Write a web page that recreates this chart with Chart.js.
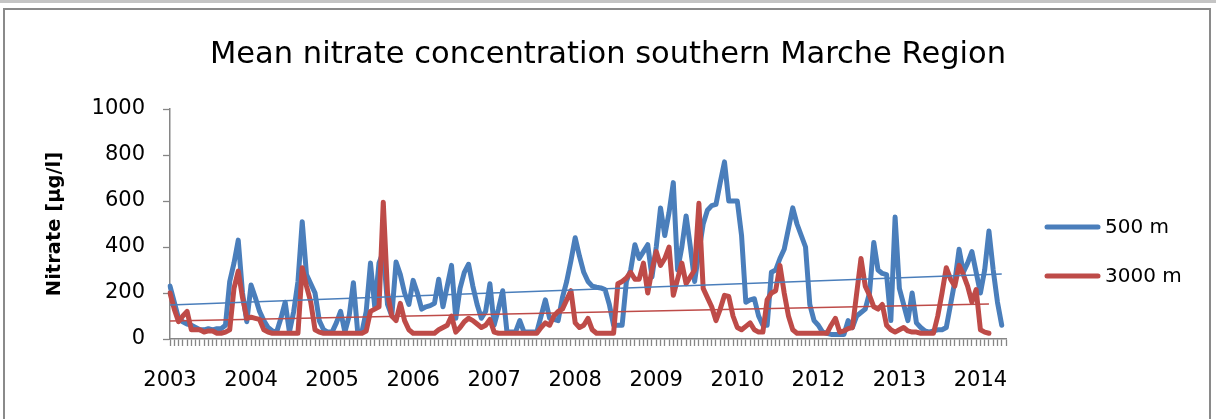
<!DOCTYPE html>
<html>
<head>
<meta charset="utf-8">
<script src="https://cdn.jsdelivr.net/npm/chart.js@4/dist/chart.umd.min.js"></script>
<style>
  html, body { margin: 0; padding: 0; background: #ffffff; }
  canvas { display: block; }
</style>
</head>
<body>
<canvas id="chart" width="1216" height="419"></canvas>
<script>
// Year labels shown under the category axis, one every 19 samples
const yearTicks = ['2003', '2004', '2005', '2006', '2007', '2008', '2009', '2010', '2012', '2013', '2014'];
const tickEvery = 19;
const sampleCount = 197;

// Mean nitrate (µg/l), wells within 500 m
const nitrate500 = [
  230, 160, 90, 75, 65, 60, 50, 40, 40, 45,
  40, 45, 45, 60, 250, 330, 430, 200, 75, 235,
  180, 120, 80, 50, 35, 30, 90, 160, 30, 120,
  250, 510, 280, 240, 200, 80, 40, 30, 30, 70,
  120, 30, 100, 245, 30, 30, 120, 330, 140, 330,
  380, 150, 100, 335, 280, 200, 150, 255, 200, 130,
  140, 145, 155, 260, 140, 230, 320, 90, 220, 290,
  325, 230, 150, 90, 120, 240, 60, 130, 210, 30,
  30, 30, 80, 30, 30, 30, 30, 100, 170, 90,
  85, 80, 180, 250, 340, 440, 360, 290, 250, 230,
  225, 222, 215, 150, 60, 60, 60, 250, 300, 410,
  350, 380, 410, 270, 400, 570, 450, 550, 680, 300,
  400, 535, 400, 250, 380, 500, 560, 580, 585, 680,
  770, 600, 600, 600, 450, 160, 170, 175, 100, 60,
  60, 290, 300, 350, 390, 480, 570, 500, 450, 400,
  150, 80, 60, 30, 25, 20, 20, 20, 20, 80,
  50, 100, 115, 130, 200, 420, 300, 285, 280, 80,
  530, 220, 150, 80, 200, 70, 50, 35, 30, 35,
  40, 40, 50, 150, 250, 390, 290, 330, 380, 290,
  200, 300, 470, 300, 160, 60
];

// Mean nitrate (µg/l), wells within 3000 m
const nitrate3000 = [
  200, 130, 75, 100, 120, 40, 40, 40, 30, 35,
  35, 25, 25, 30, 40, 220, 295, 180, 90, 95,
  90, 85, 40, 30, 25, 25, 25, 25, 25, 25,
  25, 310, 230, 160, 40, 30, 25, 25, 25, 25,
  25, 25, 25, 25, 25, 25, 35, 120, 130, 140,
  595, 200, 100, 80, 155, 80, 40, 25, 25, 25,
  25, 25, 25, 40, 50, 60, 100, 30, 50, 75,
  90, 80, 65, 50, 60, 85, 30, 25, 25, 25,
  25, 25, 25, 25, 25, 25, 25, 50, 70, 60,
  100, 120, 130, 170, 210, 70, 50, 60, 90, 40,
  25, 25, 25, 25, 25, 240, 250, 265, 290, 260,
  260, 330, 200, 300, 380, 320, 350, 400, 190, 260,
  330, 240, 270, 300, 590, 220, 180, 140, 80, 130,
  190, 185, 100, 50, 40, 55, 70, 40, 30, 30,
  170, 200, 210, 320, 200, 100, 40, 25, 25, 25,
  25, 25, 25, 25, 25, 60, 90, 30, 35, 45,
  50, 200, 350, 230, 190, 140, 130, 150, 60, 40,
  30, 40, 50, 35, 30, 30, 25, 25, 25, 25,
  100, 200, 310, 260, 230, 320, 280, 230, 160, 215,
  40, 30, 25
];

// Linear trend end values (first and last sample of each series)
const trend500 = [148, 283];
const trend3000 = [78, 152];

const seriesNames = ['500 m', '3000 m'];
const seriesColors = ['#4a7ebb', '#be4b48'];
const axisGrey = '#868686';
const fontFamily = "'DejaVu Sans', sans-serif";

const categories = Array.from({ length: sampleCount }, (_, i) =>
  i % tickEvery === 0 ? yearTicks[i / tickEvery] : '');

// Two-point trend line laid over the category axis
function trendSeries(ends, lastIndex) {
  const arr = new Array(lastIndex + 1).fill(null);
  arr[0] = ends[0];
  arr[lastIndex] = ends[1];
  return arr;
}

// White page, thin top band and grey chart frame
const framePlugin = {
  id: 'frame',
  beforeDraw(chart) {
    const ctx = chart.ctx;
    ctx.save();
    ctx.fillStyle = '#ffffff';
    ctx.fillRect(0, 0, chart.width, chart.height);
    ctx.fillStyle = '#c4c4c4';
    ctx.fillRect(0, 0, chart.width, 3);
    ctx.strokeStyle = '#8a8a8a';
    ctx.lineWidth = 2;
    ctx.strokeRect(4, 9, 1206, 500);
    ctx.restore();
  }
};

// Legend at the right: line sample followed by the series name
const sideLegend = {
  id: 'sideLegend',
  afterDraw(chart, args, opts) {
    const ctx = chart.ctx;
    ctx.save();
    opts.datasets.forEach((di, k) => {
      const ds = chart.data.datasets[di];
      const y = opts.top + k * opts.spacing;
      ctx.strokeStyle = ds.borderColor;
      ctx.lineWidth = 5;
      ctx.lineCap = 'round';
      ctx.beginPath();
      ctx.moveTo(opts.x, y);
      ctx.lineTo(opts.x + opts.lineLength, y);
      ctx.stroke();
      ctx.fillStyle = '#000000';
      ctx.font = opts.font;
      ctx.textAlign = 'left';
      ctx.textBaseline = 'middle';
      ctx.fillText(ds.label, opts.x + opts.lineLength + opts.gap, y + 1);
    });
    ctx.restore();
  }
};

new Chart(document.getElementById('chart'), {
  type: 'line',
  data: {
    labels: categories,
    datasets: [
      {
        label: seriesNames[0],
        data: nitrate500,
        borderColor: seriesColors[0],
        backgroundColor: seriesColors[0],
        borderWidth: 5,
        pointRadius: 0,
        tension: 0,
        borderJoinStyle: 'round',
        borderCapStyle: 'round',
        order: 3
      },
      {
        label: seriesNames[1],
        data: nitrate3000,
        borderColor: seriesColors[1],
        backgroundColor: seriesColors[1],
        borderWidth: 5,
        pointRadius: 0,
        tension: 0,
        borderJoinStyle: 'round',
        borderCapStyle: 'round',
        order: 2
      },
      {
        label: 'Linear (' + seriesNames[0] + ')',
        data: trendSeries(trend500, nitrate500.length - 1),
        borderColor: seriesColors[0],
        borderWidth: 1.5,
        pointRadius: 0,
        spanGaps: true,
        order: 1
      },
      {
        label: 'Linear (' + seriesNames[1] + ')',
        data: trendSeries(trend3000, nitrate3000.length - 1),
        borderColor: seriesColors[1],
        borderWidth: 1.5,
        pointRadius: 0,
        spanGaps: true,
        order: 0
      }
    ]
  },
  options: {
    responsive: false,
    animation: false,
    devicePixelRatio: 1,
    layout: { padding: { left: 0, right: 0, top: 0, bottom: 0 } },
    plugins: {
      legend: { display: false },
      tooltip: { enabled: false },
      title: {
        display: true,
        text: 'Mean nitrate concentration southern Marche Region',
        color: '#000000',
        font: { family: fontFamily, size: 30.5, weight: 'normal', lineHeight: 1.2 },
        padding: { top: 37, bottom: 35.4 }
      },
      sideLegend: {
        datasets: [0, 1],
        x: 1047,
        lineLength: 51,
        gap: 7,
        top: 227,
        spacing: 49,
        font: "20px 'DejaVu Sans', sans-serif"
      }
    },
    scales: {
      x: {
        type: 'category',
        offset: false,
        afterFit(scale) { scale.height = 80; },
        border: { color: axisGrey, width: 1.5 },
        grid: {
          drawOnChartArea: false,
          drawTicks: true,
          tickLength: 7,
          tickColor: axisGrey,
          tickWidth: 1.3,
          offset: false
        },
        ticks: {
          autoSkip: false,
          maxRotation: 0,
          minRotation: 0,
          padding: 22,
          color: '#000000',
          font: { family: fontFamily, size: 21 }
        }
      },
      y: {
        min: 0,
        max: 1000,
        afterFit(scale) { scale.width = 170; },
        border: { color: axisGrey, width: 1.5 },
        grid: {
          drawOnChartArea: false,
          drawTicks: true,
          tickLength: 7,
          tickColor: axisGrey,
          tickWidth: 1.3
        },
        ticks: {
          stepSize: 200,
          padding: 18,
          color: '#000000',
          font: { family: fontFamily, size: 21 },
          callback: (value) => String(value)
        },
        title: {
          display: true,
          text: 'Nitrate [µg/l]',
          color: '#000000',
          font: { family: fontFamily, size: 19.5, weight: 'bold', lineHeight: 1.2 },
          padding: { top: 43, bottom: 0 }
        }
      },
      // Empty right-hand band that keeps room for the legend
      legendSpace: {
        type: 'linear',
        position: 'right',
        display: true,
        afterFit(scale) { scale.width = 210; },
        border: { display: false },
        grid: { display: false, drawTicks: false },
        ticks: { display: false }
      }
    }
  },
  plugins: [framePlugin, sideLegend]
});
</script>
</body>
</html>
